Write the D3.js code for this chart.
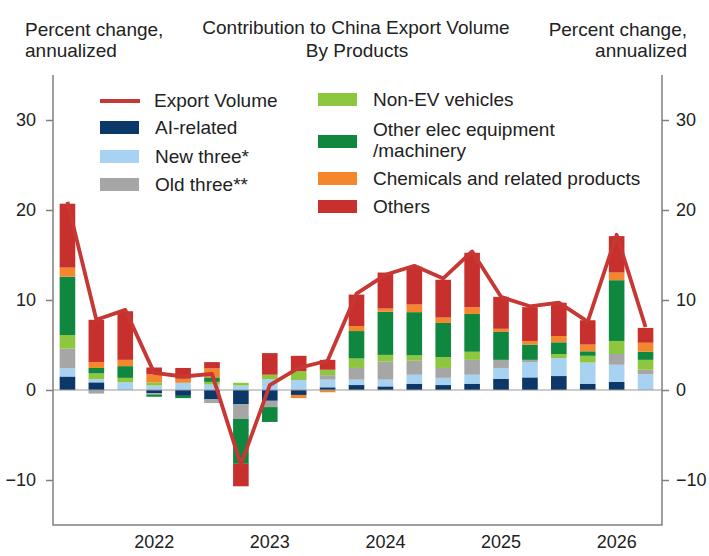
<!DOCTYPE html>
<html>
<head>
<meta charset="utf-8">
<script src="https://cdn.jsdelivr.net/npm/d3@7"></script>
<style>
  body { margin: 0; background: #fff; }
  svg { display: block; font-family: "Liberation Sans", Arial, sans-serif; }
</style>
</head>
<body>
<svg id="chart" width="709" height="556"></svg>
<script>
// quarters, 2021Q2 .. 2026Q2
var quarters = ["2021Q2","2021Q3","2021Q4",
                "2022Q1","2022Q2","2022Q3","2022Q4",
                "2023Q1","2023Q2","2023Q3","2023Q4",
                "2024Q1","2024Q2","2024Q3","2024Q4",
                "2025Q1","2025Q2","2025Q3","2025Q4",
                "2026Q1","2026Q2"];

// contributions, percentage points
var aiRelated  = [1.5, 0.85, 0, -0.35, -0.65, -1.0, -1.6, -1.2, -0.55, 0.3, 0.55, 0.4, 0.7, 0.55, 0.7, 1.25, 1.4, 1.55, 0.7, 0.9, 0];
var newThree   = [0.9, 0.35, 0.85, 0.5, 0.8, 0.6, 0.5, 1.2, 1.1, 0.85, 0.6, 0.75, 1.0, 0.8, 1.0, 1.2, 1.7, 2.0, 2.35, 1.9, 1.75];
var oldThree   = [2.2, -0.4, 0, -0.15, 0, -0.45, -1.6, -0.7, 0, 0.5, 1.3, 2.0, 1.55, 1.1, 1.65, 0.9, 0.25, 0, 0, 1.2, 0.5];
var nonEV      = [1.5, 0.65, 0.5, 0.35, 0, 0.3, 0.3, 0.5, 1.0, 0.6, 1.05, 0.75, 0.6, 1.2, 0.9, 0, 0, 0.45, 0.75, 1.45, 1.1];
var otherElec  = [6.5, 0.6, 1.3, -0.25, -0.25, 0.5, -5.0, -1.65, 0, 0, 3.05, 4.8, 4.8, 3.8, 4.2, 3.1, 1.7, 1.3, 0.5, 6.75, 0.9];
var chemicals  = [1.0, 0.65, 0.7, 0.9, 0.45, 1.0, 0, 0, -0.35, -0.25, 0.55, 0.35, 0.85, 0.6, 0.75, 0.35, 0.4, 0.7, 0.75, 0.85, 1.0];
var others     = [7.1, 4.7, 5.4, 0.75, 1.2, 0.7, -2.5, 2.4, 1.7, 1.1, 3.5, 4.0, 4.2, 4.2, 6.05, 3.55, 3.75, 3.7, 2.7, 4.05, 1.65];

// total, percent change annualized
var exportVolume = [20.9, 7.8, 8.9, 1.9, 1.5, 1.8, -8.3, 0.55, 2.45, 3.25, 10.7, 12.8, 13.8, 12.4, 15.4, 10.35, 9.3, 9.7, 7.6, 17.25, 7.0];

var seriesNames = ["AI-related", "New three*", "Old three**", "Non-EV vehicles",
                   "Other elec equipment /machinery", "Chemicals and related products", "Others"];
var seriesValues = [aiRelated, newThree, oldThree, nonEV, otherElec, chemicals, others];
var yTicks = [-10, 0, 10, 20, 30];

var colors = ["#0c3769", "#a8d2f1", "#a6a6a6", "#8dc63f", "#10873f", "#f4862b", "#c8302d"];
var lineColor = "#c73733";
var axisColor = "#808080";

var svg = d3.select("#chart");
var plotLeft = 53, plotRight = 662, plotTop = 75, plotBottom = 525;

var x = d3.scaleBand().domain(quarters).range([plotLeft, 660]).paddingInner(0.46).paddingOuter(0.23);
var y = d3.scaleLinear().domain([-15, 35]).range([plotBottom, plotTop]);

// table for the stack
var rows = quarters.map(function(q, i){
    var r = {q: q};
    seriesNames.forEach(function(s, k){ r[s] = seriesValues[k][i]; });
    return r;
});
var stacked = d3.stack().keys(seriesNames).offset(d3.stackOffsetDiverging)(rows);

svg.append("g").selectAll("g")
    .data(stacked)
    .join("g")
    .attr("fill", function(d, k){ return colors[k]; })
    .selectAll("rect")
    .data(function(d){ return d; })
    .join("rect")
    .attr("x", function(d){ return x(d.data.q); })
    .attr("width", x.bandwidth())
    .attr("y", function(d){ return y(Math.max(d[0], d[1])); })
    .attr("height", function(d){ return Math.abs(y(d[0]) - y(d[1])); });

// zero line
svg.append("line")
    .attr("x1", plotLeft).attr("x2", plotRight)
    .attr("y1", y(0)).attr("y2", y(0))
    .attr("stroke", "#999").attr("stroke-width", 1.2);

// export volume line
var line = d3.line()
    .x(function(d, i){ return x(quarters[i]) + x.bandwidth() / 2; })
    .y(function(d){ return y(d); });

svg.append("path")
    .datum(exportVolume)
    .attr("d", line)
    .attr("fill", "none")
    .attr("stroke", lineColor)
    .attr("stroke-width", 3.8)
    .attr("stroke-linejoin", "round");

// frame: left, right, bottom
svg.append("path")
    .attr("d", "M" + plotLeft + "," + plotTop + "V" + plotBottom + "H" + plotRight + "V" + plotTop)
    .attr("fill", "none")
    .attr("stroke", axisColor)
    .attr("stroke-width", 1.5);

var fmt = function(d){ return d < 0 ? "\u2212" + Math.abs(d) : "" + d; };

var yLeft = svg.append("g")
    .attr("transform", "translate(" + plotLeft + ",0)")
    .call(d3.axisLeft(y).tickValues(yTicks).tickFormat(fmt).tickSize(7).tickPadding(10));
var yRight = svg.append("g")
    .attr("transform", "translate(" + plotRight + ",0)")
    .call(d3.axisRight(y).tickValues(yTicks).tickFormat(fmt).tickSize(7).tickPadding(7));

// only Q1 gets a year label
var xAxis = svg.append("g")
    .attr("transform", "translate(0," + plotBottom + ")")
    .call(d3.axisBottom(x)
        .tickValues(quarters.filter(function(q){ return q.slice(4) == "Q1"; }))
        .tickFormat(function(q){ return q.slice(0, 4); })
        .tickSize(0).tickPadding(10));

[yLeft, yRight, xAxis].forEach(function(g){
    g.select(".domain").remove();
    g.selectAll(".tick line").attr("stroke", axisColor).attr("stroke-width", 1.5);
    g.selectAll(".tick text").attr("fill", "#222").style("font-size", "18px")
        .style("font-family", "'Liberation Sans', Arial, sans-serif");
});
xAxis.selectAll(".tick text").attr("dy", "0.71em");

// titles
var txt = function(xp, yp, s, anchor){
    return svg.append("text").attr("x", xp).attr("y", yp)
        .attr("text-anchor", anchor || "start")
        .attr("fill", "#222").style("font-size", "19px").text(s);
};
txt(25, 36, "Percent change,");
txt(25, 57, "annualized");
txt(687, 36, "Percent change,", "end");
txt(687, 57, "annualized", "end");
txt(356, 34, "Contribution to China Export Volume", "middle");
txt(357, 57, "By Products", "middle");

// legend
var lg = svg.append("g");
lg.append("line").attr("x1", 100).attr("x2", 140).attr("y1", 101).attr("y2", 101)
    .attr("stroke", lineColor).attr("stroke-width", 3.8);
txt(154, 107, "Export Volume");

var legendItems = [
    {k: 0, x: 100, y: 134, lines: ["AI-related"]},
    {k: 1, x: 100, y: 163, lines: ["New three*"]},
    {k: 2, x: 100, y: 191, lines: ["Old three**"]},
    {k: 3, x: 318, y: 106, lines: ["Non-EV vehicles"]},
    {k: 4, x: 318, y: 148, lines: ["Other elec equipment", "/machinery"], ty: 136},
    {k: 5, x: 318, y: 185, lines: ["Chemicals and related products"]},
    {k: 6, x: 318, y: 213, lines: ["Others"]}
];
legendItems.forEach(function(it){
    lg.append("rect").attr("x", it.x).attr("y", it.y - 13)
        .attr("width", 39).attr("height", 13).attr("fill", colors[it.k]);
    var ty = it.ty || it.y;
    it.lines.forEach(function(l, j){ txt(it.x + 55, ty + j * 21, l); });
});
</script>
</body>
</html>
